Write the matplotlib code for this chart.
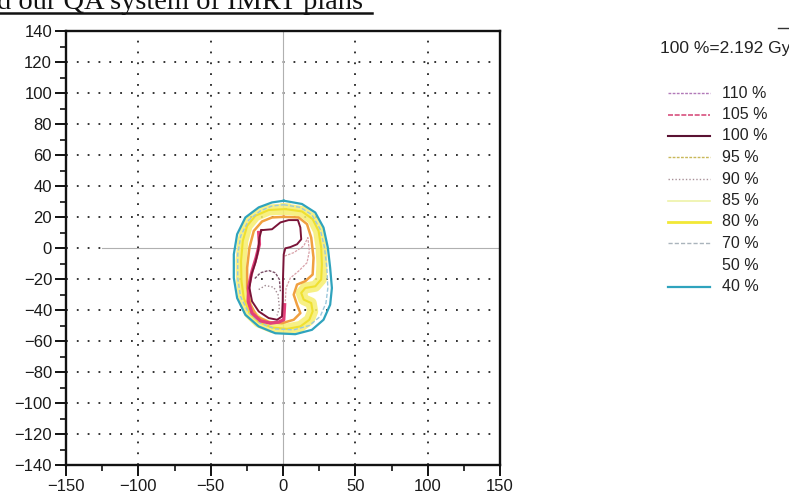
import matplotlib
matplotlib.use("Agg")
import matplotlib.pyplot as plt
from matplotlib.lines import Line2D
from matplotlib.ticker import MultipleLocator

# ---------------- data ----------------
x_ticks = [-150, -100, -50, 0, 50, 100, 150]
y_ticks = [-140, -120, -100, -80, -60, -40, -20, 0, 20, 40, 60, 80, 100, 120, 140]
grid_x = [-100, -50, 50, 100]
grid_y = [-120, -100, -80, -60, -40, -20, 20, 40, 60, 80, 100, 120]

title_text = "d our QA system of IMRT plans"
ref_dose = "100 %=2.192 Gy"
levels = ["110 %", "105 %", "100 %", "95 %", "90 %", "85 %", "80 %", "70 %", "50 %", "40 %"]
level_colors = ["#b27ab8", "#d8507e", "#5a1232", "#c9b85a", "#a89098",
                "#eef2a8", "#f2e836", "#aab4bc", "#ffffff", "#2fa3bd"]
level_styles = [(0, (2, 1)), (0, (3, 1)), "-", (0, (2, 1)), (0, (1, 1.5)),
                "-", "-", (0, (3, 1.5)), "-", "-"]
level_widths = [1.0, 1.2, 1.5, 1.0, 1.0, 1.2, 2.0, 1.0, 1.0, 1.6]

# isodose contours (mm)
c40_x = [0.5, 13.1, 22.3, 28.0, 31.0, 32.6, 33.8, 32.6, 28.0, 20.0, 8.5, -5.3,
         -16.8, -26.0, -31.7, -34.0, -34.0, -31.7, -26.0, -16.8, -7.6, 0.5]
c40_y = [30.5, 28.4, 22.9, 13.2, 0.2, -12.8, -25.8, -36.6, -46.3, -52.8, -55.6, -55.0,
         -50.6, -43.1, -32.3, -19.3, -4.1, 8.9, 19.7, 26.2, 29.4, 30.5]

c70_x = [0.5, 12.0, 20.0, 25.7, 28.7, 30.3, 31.0, 29.7, 25.7, 18.2, 7.4, -5.3,
         -15.6, -24.1, -29.4, -31.3, -31.3, -29.2, -23.7, -15.6, -7.6, 0.5]
c70_y = [27.9, 26.2, 21.4, 12.1, 0.2, -12.8, -25.8, -35.5, -44.2, -50.0, -52.8, -52.2,
         -48.5, -41.3, -31.2, -19.3, -4.1, 7.8, 18.0, 24.0, 27.1, 27.9]

c80_x = [1.6, 13.1, 20.5, 24.6, 26.4, 26.9, 26.4, 22.3, 15.4, 12.6, 14.3, 19.5, 20.5,
         18.2, 12.0, 2.8, -7.6, -16.8, -23.2, -27.1, -28.7, -29.0, -27.8, -24.8, -19.1,
         -9.9, 1.6]
c80_y = [25.1, 23.6, 18.6, 11.0, 0.2, -10.6, -20.3, -24.7, -25.8, -29.0, -33.3, -35.5,
         -40.9, -46.3, -50.6, -52.2, -51.3, -47.8, -42.0, -32.3, -21.4, -8.4, 4.5, 14.3,
         20.8, 24.5, 25.1]

c95_x = [0.5, 10.8, 16.6, 19.5, 21.1, 20.5, 15.4, 9.7, 7.4, 9.7, 12.0, 7.4, -0.7,
         -9.9, -17.9, -22.5, -24.8, -24.8, -23.2, -20.2, -14.5, -7.6, 0.5]
c95_y = [20.1, 19.7, 15.4, 6.7, -6.3, -17.1, -21.4, -23.6, -30.1, -36.6, -42.0, -46.3,
         -48.5, -47.8, -44.2, -36.6, -25.8, -12.8, 0.2, 11.0, 17.1, 19.7, 20.1]

c100_x = [-14.9, -7.6, -1.8, 3.9, 10.3, 12.0, 12.6, 9.7, 5.1, 1.6, 0.5, 0.0, -0.2,
          -0.7, -4.1, -9.9, -16.8, -21.4, -23.2, -21.8, -19.1, -17.2, -16.3, -14.9]
c100_y = [11.5, 12.1, 16.5, 18.0, 18.0, 13.2, 5.6, 2.4, 0.6, -0.2, -4.1, -19.3, -34.4,
          -44.2, -46.3, -45.2, -40.9, -34.4, -25.8, -17.1, -9.5, -1.9, 6.7, 11.5]

c105_x = [-16.8, -16.3, -18.6, -21.4, -23.7, -24.1, -21.4, -15.6, -8.7, -3.0, 0.5, 1.1]
c105_y = [10.0, 2.4, -6.3, -14.9, -24.7, -34.4, -42.0, -47.0, -48.5, -47.8, -46.3, -36.6]

c110_x = [-19.5, -15.6, -9.9, -5.3, -2.5, -1.8]
c110_y = [-19.7, -16.0, -14.5, -16.0, -20.3, -27.9]

c90_x = [-16.8, -12.2, -6.4, -3.4, -2.5, -4.1]
c90_y = [-26.8, -24.2, -25.3, -30.1, -38.7, -43.5]

c85_x = [1.1, 7.4, 14.3, 17.2, 18.2, 16.6, 10.8, 5.1, 2.1, 1.6]
c85_y = [-5.2, -3.0, 1.3, 6.7, -2.0, -9.5, -14.9, -19.3, -25.8, -34.4]

# ---------------- figure ----------------
W, H = 789, 495
fig = plt.figure(figsize=(W / 100, H / 100), dpi=100)
ax = fig.add_axes([66 / W, 1 - 465 / H, (500 - 66) / W, (465 - 31) / H])
ax.set_xlim(-150, 150)
ax.set_ylim(-140, 140)

# dotted grid
for gx in grid_x:
    ax.axvline(gx, color="#222222", lw=1.3, ls=(0, (1, 5)), zorder=1)
for gy in grid_y:
    ax.axhline(gy, color="#222222", lw=1.3, ls=(0, (1, 5)), zorder=1)
ax.axvline(0, color="#b0b0b0", lw=0.8, zorder=1)
ax.plot([-150, -125], [0, 0], color="#222222", lw=1.3, ls=(0, (1, 5)), zorder=1)
ax.plot([-125, 150], [0, 0], color="#b0b0b0", lw=0.8, zorder=1)

# contours
ax.plot(c80_x, c80_y, color="#f6ee70", lw=8, alpha=0.85, solid_joinstyle="round", zorder=2)
ax.plot(c80_x, c80_y, color="#efe030", lw=1.5, zorder=3)
ax.plot(c40_x, c40_y, color="#2fa3bd", lw=1.6, zorder=3)
ax.plot(c70_x, c70_y, color="#9cc8dc", lw=1.0, ls=(0, (3, 1.5)), zorder=3)
ax.plot(c95_x, c95_y, color="#f0a040", lw=1.8, zorder=3)
ax.plot(c85_x, c85_y, color="#d8a0a8", lw=0.9, ls=(0, (2, 1)), zorder=3)
ax.plot(c105_x, c105_y, color="#e2407a", lw=2.4, zorder=4)
ax.plot(c100_x, c100_y, color="#7a1438", lw=1.4, zorder=5)
ax.plot(c110_x, c110_y, color="#7a5068", lw=1.0, ls=(0, (2, 1)), zorder=5)
ax.plot(c90_x, c90_y, color="#a08890", lw=1.0, ls=(0, (1, 1.5)), zorder=5)

# axes styling
for s in ax.spines.values():
    s.set_linewidth(1.7)
    s.set_color("#111111")
ax.set_xticks(x_ticks)
ax.set_yticks(y_ticks)
ax.xaxis.set_minor_locator(MultipleLocator(25))
ax.yaxis.set_minor_locator(MultipleLocator(10))
ax.tick_params(which="major", length=8, width=1.4, direction="out", color="#111111",
               labelsize=12, labelcolor="#1a1a1a", pad=2)
ax.tick_params(which="minor", length=4, width=1.2, direction="out", color="#111111")
ax.tick_params(top=False, right=False, which="both")
for lab in ax.get_xticklabels() + ax.get_yticklabels():
    lab.set_family(["Liberation Sans", "DejaVu Sans"])

# title fragment (cut at top, as in the scanned page)
fig.text(-3 / W, 1 - 9 / H, title_text, family=["Liberation Serif", "DejaVu Serif"],
         fontsize=20.5, ha="left", va="baseline", color="#111111")
fig.add_artist(Line2D([0, 372 / W], [1 - 13 / H, 1 - 13 / H], color="#111111", lw=1.8))

# legend
narrow = ["Liberation Sans Narrow", "Liberation Sans", "DejaVu Sans"]
fig.text(660 / W, 1 - 49 / H, ref_dose, family=narrow, fontsize=12.5, ha="left",
         va="center", color="#222222")
fig.add_artist(Line2D([778 / W, 789 / W], [1 - 28 / H, 1 - 28 / H], color="#333333", lw=1))
y0, dy = 93, 21.5
for i, lab in enumerate(levels):
    yy = 1 - (y0 + i * dy) / H
    fig.add_artist(Line2D([668 / W, 710 / W], [yy, yy], color=level_colors[i],
                          ls=level_styles[i], lw=level_widths[i]))
    fig.text(722 / W, yy, lab, family=narrow, fontsize=11.5, ha="left", va="center",
             color="#222222")

fig.savefig("out.png", dpi=100)
